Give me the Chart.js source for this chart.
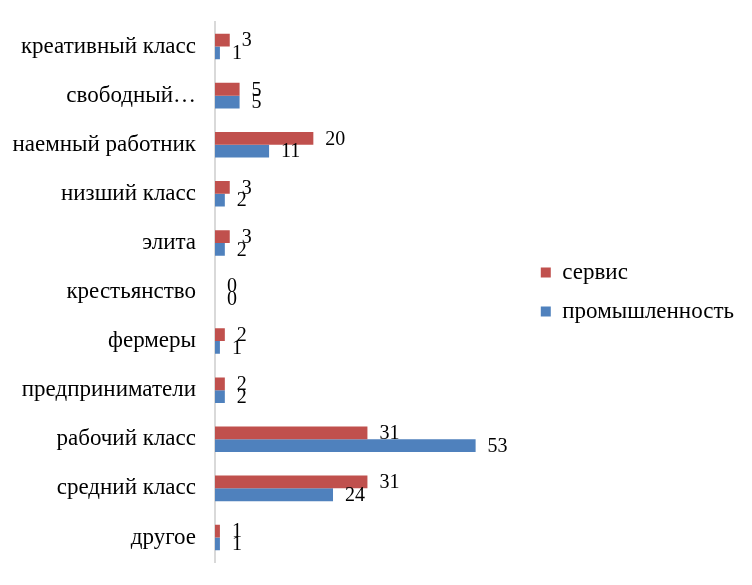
<!DOCTYPE html>
<html>
<head>
<meta charset="utf-8">
<script src="https://cdn.jsdelivr.net/npm/chart.js@4/dist/chart.umd.min.js"></script>
<style>
  html, body { margin: 0; padding: 0; background: #ffffff; }
  #wrap { width: 752px; height: 585px; }
</style>
</head>
<body>
<div id="wrap"><canvas id="barChart" width="752" height="585"></canvas></div>
<script>
// Categories (top to bottom)
const categories = ['креативный класс', 'свободный…', 'наемный работник', 'низший класс', 'элита', 'крестьянство', 'фермеры', 'предприниматели', 'рабочий класс', 'средний класс', 'другое'];

// Series values
const serviceValues = [3, 5, 20, 3, 3, 0, 2, 2, 31, 31, 1];
const industryValues = [1, 5, 11, 2, 2, 0, 1, 2, 53, 24, 1];

const serifFont = "'Liberation Serif', 'Times New Roman', serif";

// Draw value labels to the right of each bar
const valueLabels = {
  id: 'valueLabels',
  afterDatasetsDraw(chart) {
    const ctx = chart.ctx;
    ctx.save();
    ctx.font = '20px ' + serifFont;
    ctx.fillStyle = '#000000';
    ctx.textAlign = 'left';
    ctx.textBaseline = 'middle';
    chart.data.datasets.forEach((ds, i) => {
      const meta = chart.getDatasetMeta(i);
      meta.data.forEach((bar, j) => {
        ctx.fillText(String(ds.data[j]), bar.x + 12, bar.y + 1);
      });
    });
    ctx.restore();
  }
};

const chartData = {
  labels: categories,
  datasets: [{
    label: 'сервис',
    data: serviceValues,
    backgroundColor: '#C0504D', // red
    categoryPercentage: 0.52,
    barPercentage: 1.0
  }, {
    label: 'промышленность',
    data: industryValues,
    backgroundColor: '#4F81BD', // blue
    categoryPercentage: 0.52,
    barPercentage: 1.0
  }]
};

const chartOptions = {
  indexAxis: 'y',
  responsive: false,
  animation: false,
  layout: { padding: { top: 22, bottom: 23, left: 0, right: 8 } },
  plugins: {
    legend: {
      position: 'right',
      maxWidth: 240,
      labels: {
        color: '#000000',
        font: { family: serifFont, size: 23 },
        boxWidth: 10,
        boxHeight: 10,
        padding: 16
      }
    },
    tooltip: { enabled: false }
  },
  scales: {
    x: {
      display: false,
      min: 0,
      max: 63
    },
    y: {
      grid: { display: false, drawTicks: false },
      border: { display: true, color: '#D9D9D9', width: 2 },
      ticks: {
        color: '#000000',
        font: { family: serifFont, size: 23 },
        padding: 19
      },
      afterFit(scale) {
        scale.width = 215; // keep long labels from being squeezed
        scale.paddingTop = 0;
        scale.paddingBottom = 0;
      }
    }
  }
};

new Chart(document.getElementById('barChart').getContext('2d'), {
  type: 'bar',
  data: chartData,
  options: chartOptions,
  plugins: [valueLabels]
});
</script>
</body>
</html>
